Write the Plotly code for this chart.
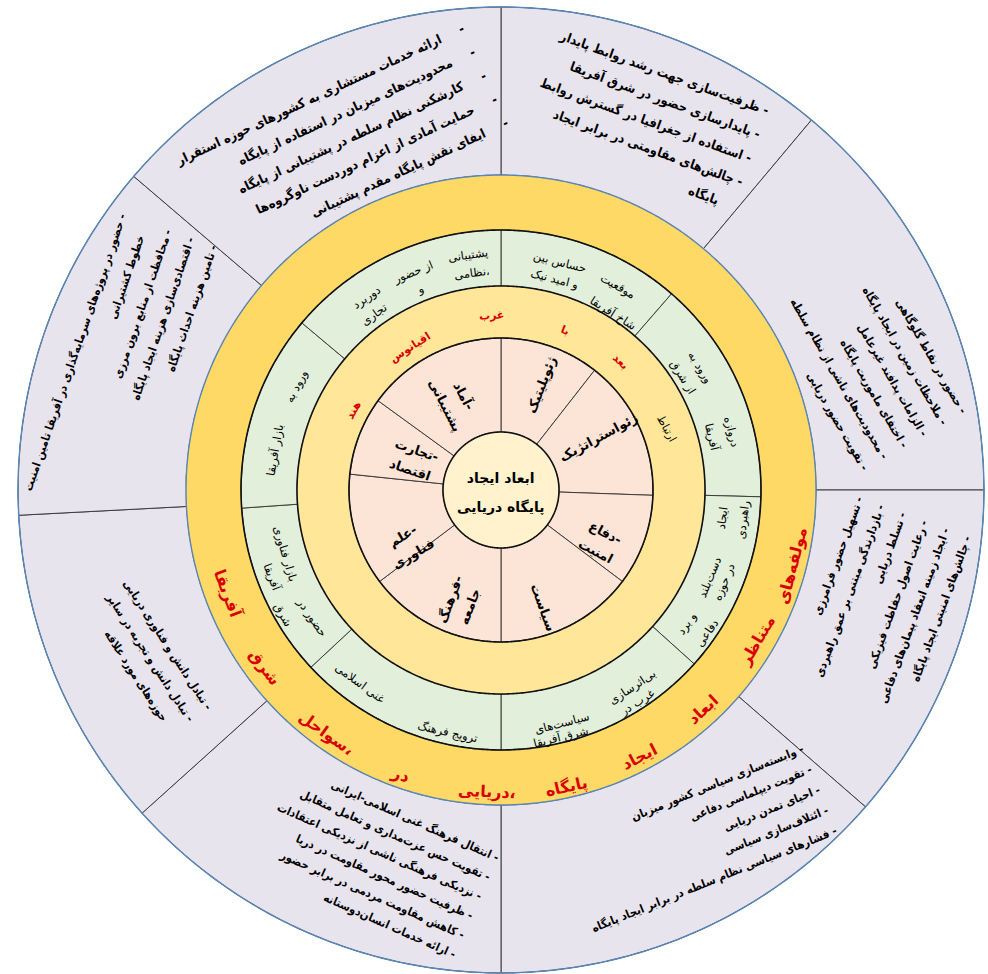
import numpy as np
import plotly.graph_objects as go

# ---------------- data ----------------
core_title = ["ابعاد ایجاد", "پایگاه دریایی"]

dimension_labels = [
    ["ژئوپلیتیک"], ["ژئواستراتژیک"], ["دفاع-", "امنیت"], ["سیاست"],
    ["فرهنگ-", "جامعه"], ["علم-", "فناوری"], ["تجارت-", "اقتصاد"], ["آماد-", "پشتیبانی"],
]
dimension_spans = [38, 54, 35, 53, 53, 43, 30, 54]          # degrees, clockwise from top

link_word = "ارتباط"
band_words = ["بعد", "با", "غرب", "اقیانوس", "هند"]

relation_chunks = [
    ["موقعیت", "حساس بین", "شاخ آفریقا", "و امید نیک"],
    ["دروازه", "ورود به", "آفریقا", "از شرق"],
    ["ایجاد", "دست\u200cبلند", "و برد", "راهبردی", "در حوزه", "دفاعی"],
    ["بی\u200cاثرسازی", "سیاست\u200cهای", "غرب در", "شرق آفریقا"],
    ["ترویج فرهنگ", "غنی اسلامی"],
    ["حضور در", "بازار فناوری", "شرق", "آفریقا"],
    ["ورود به", "بازار آفریقا"],
    ["پشتیبانی", "از حضور", "دوربرد", "نظامی،", "و", "تجاری"],
]
relation_spans = [41, 50.5, 40.5, 48, 47, 39, 44, 50]

ring_title_words = ["مولفه\u200cهای", "متناظر", "ابعاد", "ایجاد", "پایگاه",
                    "دریایی،", "در", "سواحل،", "شرق", "آفریقا"]

component_items = [
    ["ظرفیت\u200cسازی جهت رشد روابط پایدار", "پایدارسازی حضور در شرق آفریقا",
     "استفاده از جغرافیا در گسترش روابط", "چالش\u200cهای مقاومتی در برابر ایجاد\nپایگاه"],
    ["حضور در نقاط گلوگاهی", "ملاحظات زمین در ایجاد پایگاه", "الزامات پدافند غیرعامل",
     "اختفای ماموریت پایگاه", "محدودیت\u200cهای ناشی از نظام سلطه", "تقویت حضور دریایی"],
    ["تسهیل حضور فرامرزی", "بازدارندگی مبتنی بر عمق راهبردی", "تسلط دریایی",
     "رعایت اصول حفاظت فیزیکی", "ایجاد زمینه انعقاد پیمان\u200cهای دفاعی", "چالش\u200cهای امنیتی ایجاد پایگاه"],
    ["وابسته\u200cسازی سیاسی کشور میزبان", "تقویت دیپلماسی دفاعی", "احیای تمدن دریایی",
     "ائتلاف\u200cسازی سیاسی", "فشارهای سیاسی نظام سلطه در برابر ایجاد پایگاه"],
    ["انتقال فرهنگ غنی اسلامی-ایرانی", "تقویت حس عزت\u200cمداری و تعامل متقابل",
     "نزدیکی فرهنگی ناشی از نزدیکی اعتقادات", "ظرفیت حضور محور مقاومت در دریا",
     "کاهش مقاومت مردمی در برابر حضور", "ارائه خدمات انسان\u200cدوستانه"],
    ["تبادل دانش و فناوری دریایی", "تبادل دانش و تجربه در سایر\nحوزه\u200cهای مورد علاقه"],
    ["حضور در پروژه\u200cهای سرمایه\u200cگذاری در آفریقا تامین امنیت\nخطوط کشتیرانی",
     "محافظت از منابع برون مرزی", "اقتصادی\u200cسازی هزینه ایجاد پایگاه", "تامین هزینه احداث پایگاه"],
    ["ارائه خدمات مستشاری به کشورهای حوزه استقرار", "محدودیت\u200cهای میزبان در استفاده از پایگاه",
     "کارشکنی نظام سلطه در پشتیبانی از پایگاه", "حمایت آمادی از اعزام دوردست ناوگروه\u200cها",
     "ایفای نقش پایگاه مقدم پشتیبانی"],
]
component_spans = [40, 50, 41, 49, 48, 39, 43.5, 49.5]

# ---------------- layout / style ----------------
W, H = 988, 974
CX, CY = 501, 490
R_CORE, R_DIM, R_BAND, R_REL, R_TITLE, R_OUT = 58, 152, 204, 260, 315, 483
R_AX = 484
FONT = "DejaVu Sans"
FONT_C = "DejaVu Sans Condensed, DejaVu Sans"
NB = "\u00a0"

C_LAV, C_GOLD, C_BAND = "#E8E4EE", "#FFD966", "#FFE699"
C_REL, C_DIM, C_CORE = "#E2EFDA", "#FCE4D6", "#FFF2CC"
C_RED, C_BLUE, C_DIV = "#D90000", "#5B87B5", "#3C3C3C"

# label anchors (polar degrees, radius in px)
dim_pos = [(68.7, 112.7), (28.6, 110.5), (-27.7, 112), (-70.4, 125),
           (-110, 120), (-149.4, 108), (161, 93), (117, 101)]
link_pos = (20.5, 177)
band_pos = [(47.1, 175), (68.2, 172), (93, 175), (122.5, 169.5), (151.6, 168)]
rel_pos = [
    [(60.2, 235), (75.5, 235.5), (57.7, 209), (75.6, 217)],
    [(14.1, 238), (31.7, 234), (14.1, 217.5), (31.8, 214)],
    [(-7.2, 223), (-22.6, 226), (-35.6, 229), (-7.1, 244), (-22.3, 242), (-34.8, 251)],
    [(-56.4, 237), (-75.3, 241), (-57.3, 253), (-76.4, 255)],
    [(-102.4, 248), (-126.2, 239)],
    [(-146.1, 228), (-163.7, 225), (-150.3, 252), (-159.2, 245)],
    [(153.2, 228.5), (170, 229.5)],
    [(98, 237), (112, 235), (124.8, 235), (97.6, 219), (112, 216), (125.8, 216)],
]
title_pos = [(-14.5, 300.5), (-30.4, 296.7), (-47.4, 298.7), (-62.5, 301), (-77.5, 304),
             (-92.7, 302), (-109.5, 302), (-125.6, 299), (-143.1, 295), (-159.3, 292)]
# (theta, r, textangle, font size, line box size, dash gap)
comp_style = [
    (68.6, 397, 20, 13, 19.5, 1),
    (19.3, 389, 60, 11.5, 17.5, 1),
    (-16.7, 397, -70, 11.5, 17.7, 1),
    (-60.5, 400, -22, 11.5, 17, 1),
    (-108.8, 392, 24, 11.5, 16.3, 1),
    (-154.6, 389, 57, 11.5, 16.7, 1),
    (162.2, 400, -71, 11.5, 18.5, 1),
    (114.5, 382, -25, 13, 20, 5),
]


def seg_centers(spans, start=90.0):
    ends = np.cumsum(spans)
    return [start - (e - s / 2.0) for e, s in zip(ends, spans)]


def paper_xy(theta, r):
    t = np.deg2rad(theta)
    return (CX + r * np.cos(t)) / W, 1 - (CY - r * np.sin(t)) / H


def norm(a):
    return ((a + 180) % 360) - 180


def tangent_angle(theta):
    th = norm(theta)
    return 90 - th if th >= 0 else -(90 + th)


def radial_angle(theta):
    th = norm(theta)
    return -th if -90 <= th <= 90 else norm(180 - th)


fig = go.Figure()


def ring(centers, widths, base, thick, color, line_w):
    fig.add_trace(go.Barpolar(
        theta=centers, width=widths, base=[base] * len(widths), r=[thick] * len(widths),
        marker=dict(color=color, line=dict(color=C_DIV, width=line_w)),
        hoverinfo="skip", showlegend=False))


ring(seg_centers(component_spans), component_spans, R_TITLE, R_OUT - R_TITLE, C_LAV, 1)
ring([0], [360], R_REL, R_TITLE - R_REL, C_GOLD, 0)
ring(seg_centers(relation_spans), relation_spans, R_BAND, R_REL - R_BAND, C_REL, 1)
ring([0], [360], R_DIM, R_BAND - R_DIM, C_BAND, 0)
ring(seg_centers(dimension_spans), dimension_spans, R_CORE, R_DIM - R_CORE, C_DIM, 1)
ring([0], [360], 0, R_CORE, C_CORE, 0)

circ = np.linspace(0, 360, 721)
for rad, col, w in [(R_OUT, C_BLUE, 1.6), (R_TITLE, C_BLUE, 1.4), (R_REL, "#111111", 1.6),
                    (R_BAND, "#111111", 1.6), (R_DIM, "#111111", 1.6), (R_CORE, "#111111", 1.6)]:
    fig.add_trace(go.Scatterpolar(theta=circ, r=[rad] * len(circ), mode="lines",
                                  line=dict(color=col, width=w), hoverinfo="skip", showlegend=False))

ann = []


def add_text(theta, r, text, angle, size, color="black", weight="bold", family=FONT):
    x, y = paper_xy(theta, r)
    ann.append(dict(x=x, y=y, xref="paper", yref="paper", text=text, showarrow=False,
                    textangle=angle, xanchor="center", yanchor="middle", align="center",
                    font=dict(family=family, size=size, color=color, weight=weight)))


def spaced(lines, size):
    return "<br>".join(f"<span style='font-size:{size}px'>{ln}</span>" for ln in lines)


# core
add_text(-90, 3, spaced(core_title, 14), 0, 22)

# dimensions
for lab, (th, r) in zip(dimension_labels, dim_pos):
    add_text(th, r, spaced(lab, 13), radial_angle(th), 16)

# band words
for w, (th, r) in zip(band_words, band_pos):
    add_text(th, r, w, tangent_angle(th), 11, C_RED)
add_text(link_pos[0], link_pos[1], link_word, 62, 11, "black", "normal")

# relations
for chunks, poss in zip(relation_chunks, rel_pos):
    for c, (th, r) in zip(chunks, poss):
        add_text(th, r, c, tangent_angle(th), 11.5, "black", "normal")

# ring title
for w, (th, r) in zip(ring_title_words, title_pos):
    add_text(th, r, w, tangent_angle(th), 16, C_RED)

# components
for items, (th, r, ang, fs, bx, gap) in zip(component_items, comp_style):
    lines = []
    for it in items:
        parts = it.split("\n")
        lines.append(f"<span style='font-size:{fs}px'>{parts[0]}{NB * gap}-</span>")
        for p in parts[1:]:
            lines.append(f"<span style='font-size:{fs}px'>{p}{NB * (gap + 3)}</span>")
    x, y = paper_xy(th, r)
    ann.append(dict(x=x, y=y, xref="paper", yref="paper", text="<br>".join(lines), showarrow=False,
                    textangle=ang, xanchor="center", yanchor="middle", align="right",
                    font=dict(family=FONT_C, size=bx, color="black", weight="bold")))

fig.update_layout(
    width=W, height=H, margin=dict(l=0, r=0, t=0, b=0),
    paper_bgcolor="white", plot_bgcolor="white", showlegend=False,
    annotations=ann,
    polar=dict(
        domain=dict(x=[(CX - R_AX) / W, (CX + R_AX) / W], y=[1 - (CY + R_AX) / H, 1 - (CY - R_AX) / H]),
        bgcolor="rgba(0,0,0,0)",
        radialaxis=dict(visible=False, range=[0, R_AX]),
        angularaxis=dict(visible=False, direction="counterclockwise", rotation=0),
    ),
)

fig.write_html("out.html", config={"displayModeBar": False},
               post_script="document.body.style.margin='0px';document.body.style.overflow='hidden';")
